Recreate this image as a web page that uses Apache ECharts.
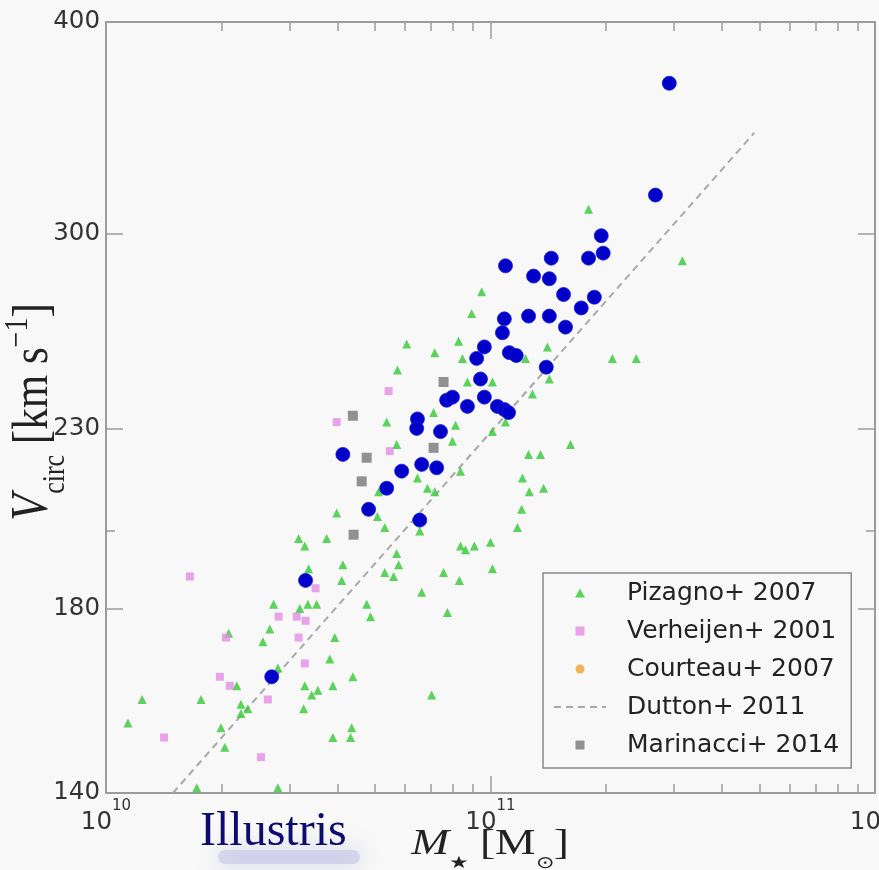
<!DOCTYPE html>
<html>
<head>
<meta charset="utf-8">
<script src="https://cdn.jsdelivr.net/npm/echarts@6/dist/echarts.min.js"></script>
<style>
html,body{margin:0;padding:0;background:#f8f8f8;}
#chart{width:879px;height:870px;}
</style>
</head>
<body>
<div id="chart"></div>
<script>
// ---- data (x stored as log10 of stellar mass in Msun, y as Vcirc in km/s) ----
const pizagnoLogM = [10.057,10.094,10.247,10.236,10.447,10.299,10.309,10.340,10.351,10.369,10.351,10.319,10.408,10.426,10.436,10.447,10.504,10.525,10.548,10.517,10.551,10.535,10.514,10.590,10.642,10.582,10.595,10.678,10.688,10.613,10.527,10.616,10.761,10.725,10.748,10.878,10.919,10.821,10.888,10.847,10.639,10.636,10.590,10.517,10.501,10.574,10.600,10.706,10.725,10.816,10.756,10.922,10.935,10.958,11.000,11.005,10.709,10.810,10.836,10.855,10.922,10.756,10.901,10.909,10.730,10.852,10.940,10.758,10.927,10.782,10.855,10.917,10.977,10.951,11.148,11.091,11.317,11.379,11.005,11.153,11.109,11.039,11.005,11.208,11.099,11.130,11.083,11.101,11.138,11.081,11.070,11.255,11.499];
const pizagnoV    = [154,159,159,141,141,153,149,162,158,157,156,174,172,175,181,166,180,181,181,162,161,160,157,162,164,168,173,181,178,187,190,191,191,189,188,189,187,184,179,160,153,151,151,196,198,198,205,204,201,200,194,196,195,196,197,190,211,215,212,211,217,225,226,231,232,235,245,249,253,258,255,259,277,269,257,253,253,253,245,246,241,232,229,225,222,222,215,211,212,206,201,310,289];

const verheijenLogM = [10.735,10.600,10.738,10.218,10.545,10.449,10.496,10.519,10.312,10.501,10.517,10.296,10.322,10.421,10.151,10.403];
const verheijenV    = [242,232,223,188,185,178,178,177,173,173,167,164,162,159,151,147];

const courteauLogM = [];
const courteauV    = [];

const duttonLogM = [10.174, 11.686];
const duttonV    = [140, 344];

const marinacciLogM = [10.878,10.642,10.852,10.678,10.665,10.644];
const marinacciV    = [245,234,224,221,214,199];

const illustrisLogM = [11.465,11.429,11.288,11.255,11.293,11.158,11.039,11.112,11.153,11.190,11.270,11.236,11.153,11.099,11.195,11.036,11.031,10.984,10.964,11.049,11.067,11.145,10.974,10.984,11.018,11.036,11.047,10.940,10.886,10.901,10.810,10.808,10.870,10.821,10.860,10.769,10.730,10.683,10.816,10.616,10.519,10.431];
const illustrisV    = [368,316,299,290,292,290,287,283,282,276,275,271,268,268,264,267,262,257,253,255,254,250,246,240,237,236,235,237,239,240,233,230,229,219,218,217,212,206,203,222,187,164];

const legendNames = ['Pizagno+ 2007','Verheijen+ 2001','Courteau+ 2007','Dutton+ 2011','Marinacci+ 2014'];

const xLabelTicks = [1e10, 1e11, 1e12];
const xMajorTicks = [1e11];
const xMinorTicks = [2e10,3e10,4e10,5e10,6e10,7e10,8e10,9e10,2e11,3e11,4e11,5e11,6e11,7e11,8e11,9e11];
const yLabelTicks = [140, 180, 230, 300, 400];
const yMajorTicks = [180, 230, 300];
const yMinorTicks = [200];

function pairs(lm, v) { return lm.map((m, i) => [Math.pow(10, m), v[i]]); }

const AX = '#9a9a9a';
const TICK_FONT = 'DejaVu Sans';

function xAxisDef(pos, ticks, len, withLine, withLabel) {
  return {
    type: 'log', logBase: 10, min: 1e10, max: 1e12, position: pos,
    axisLine: { show: withLine, onZero: false, lineStyle: { color: AX, width: 2 } },
    axisTick: { show: true, inside: true, length: len, customValues: ticks, lineStyle: { color: AX, width: 1.5 } },
    axisLabel: withLabel ? {
      show: true, customValues: xLabelTicks, margin: 6,
      formatter: function (v) { return '{b|10}{s|' + Math.round(Math.log10(v)) + '}'; },
      rich: {
        b: { fontFamily: TICK_FONT, fontSize: 24.5, color: '#333', lineHeight: 36, verticalAlign: 'bottom' },
        s: { fontFamily: TICK_FONT, fontSize: 15, color: '#333', lineHeight: 15, verticalAlign: 'top' }
      }
    } : { show: false },
    splitLine: { show: false }
  };
}
function yAxisDef(pos, ticks, len, withLine, withLabel) {
  return {
    type: 'log', logBase: 10, min: 140, max: 400, position: pos,
    axisLine: { show: withLine, onZero: false, lineStyle: { color: AX, width: 2 } },
    axisTick: { show: true, inside: true, length: len, customValues: ticks, lineStyle: { color: AX, width: 1.5 } },
    axisLabel: withLabel ? {
      show: true, customValues: yLabelTicks, margin: 6,
      fontFamily: TICK_FONT, fontSize: 24.5, color: '#333'
    } : { show: false },
    splitLine: { show: false }
  };
}

const chart = echarts.init(document.getElementById('chart'), null, { renderer: 'canvas' });

const serif = 'Liberation Serif';
const titleColor = '#222';

const triPath = 'path://M5,0L10,9L0,9Z';
const sqPath = 'path://M0,0L10,0L10,10L0,10Z';
const circPath = 'path://M5,0A5,5,0,1,1,5,10A5,5,0,1,1,5,0Z';

chart.setOption({
  backgroundColor: '#f8f8f8',
  animation: false,
  grid: { left: 106, top: 22, right: 4, bottom: 77, containLabel: false, outerBoundsMode: 'none' },
  xAxis: [
    xAxisDef('bottom', xMajorTicks, 17, true, true),
    xAxisDef('bottom', xMinorTicks, 9, false, false),
    xAxisDef('top', xMajorTicks, 17, true, false),
    xAxisDef('top', xMinorTicks, 9, false, false)
  ],
  yAxis: [
    yAxisDef('left', yMajorTicks, 17, true, true),
    yAxisDef('left', yMinorTicks, 9, false, false),
    yAxisDef('right', yMajorTicks, 17, true, false),
    yAxisDef('right', yMinorTicks, 9, false, false)
  ],
  legend: {
    data: [
      { name: legendNames[0], icon: triPath },
      { name: legendNames[1], icon: sqPath },
      { name: legendNames[2], icon: circPath },
      { name: legendNames[3], itemStyle: { opacity: 0 } },
      { name: legendNames[4], icon: sqPath }
    ],
    orient: 'vertical',
    left: 543, top: 573,
    padding: [6, 12, 9, 10],
    itemWidth: 52, itemHeight: 9, itemGap: 10,
    symbolKeepAspect: true,
    borderColor: '#888', borderWidth: 1.5, borderRadius: 0,
    backgroundColor: '#f8f8f8',
    textStyle: { fontFamily: TICK_FONT, fontSize: 25, color: '#222', lineHeight: 28, padding: [0, 0, 0, 16] },
    selectedMode: false
  },
  series: [
    {
      name: 'Pizagno+ 2007', type: 'scatter', symbol: 'triangle', symbolSize: 9,
      itemStyle: { color: '#33c833' }, data: pairs(pizagnoLogM, pizagnoV), z: 2
    },
    {
      name: 'Verheijen+ 2001', type: 'scatter', symbol: 'rect', symbolSize: 8,
      itemStyle: { color: '#e38ce3' }, data: pairs(verheijenLogM, verheijenV), z: 3
    },
    {
      name: 'Courteau+ 2007', type: 'scatter', symbol: 'circle', symbolSize: 8,
      itemStyle: { color: '#f0a030' }, data: pairs(courteauLogM, courteauV), z: 3
    },
    {
      name: 'Dutton+ 2011', type: 'line', symbol: 'none', showSymbol: false,
      lineStyle: { color: '#a8a8a8', width: 2, type: [7, 5] }, itemStyle: { color: '#a8a8a8' },
      data: pairs(duttonLogM, duttonV), z: 1
    },
    {
      name: 'Marinacci+ 2014', type: 'scatter', symbol: 'rect', symbolSize: 10,
      itemStyle: { color: '#777777' }, data: pairs(marinacciLogM, marinacciV), z: 3
    },
    {
      name: 'Illustris', type: 'scatter', symbol: 'circle', symbolSize: 14,
      itemStyle: { color: '#0000c8', borderColor: '#1818e0', borderWidth: 0.8, opacity: 1 },
      data: pairs(illustrisLogM, illustrisV), z: 4
    }
  ],
  graphic: [
    {
      type: 'rect', silent: true, z: 10,
      shape: { x: 218, y: 850, width: 142, height: 14, r: 7 },
      style: { fill: 'rgba(185,185,228,0.45)', shadowBlur: 22, shadowColor: 'rgba(160,160,215,1)' }
    },
    {
      type: 'text', silent: true, z: 11, x: 200, y: 832,
      style: { text: 'Illustris', fontFamily: serif, fontSize: 48, fill: '#0c0c6e', align: 'left', verticalAlign: 'middle' }
    },
    {
      type: 'text', silent: true, z: 11, x: 33, y: 412, rotation: Math.PI / 2, scaleY: 1.2,
      style: {
        text: '{i|V}{sub|circ}{n| [km s}{sup|\u22121}{n|]}',
        align: 'center', verticalAlign: 'middle', fill: titleColor,
        rich: {
          i: { fontFamily: serif, fontStyle: 'italic', fontSize: 44, lineHeight: 64, verticalAlign: 'middle', fill: titleColor },
          n: { fontFamily: serif, fontSize: 43, lineHeight: 64, verticalAlign: 'middle', fill: titleColor },
          sub: { fontFamily: serif, fontSize: 26, lineHeight: 26, verticalAlign: 'bottom', fill: titleColor },
          sup: { fontFamily: serif, fontSize: 28, lineHeight: 28, verticalAlign: 'top', padding: [6, 0, 0, 0], fill: titleColor }
        }
      }
    },
    {
      type: 'text', silent: true, z: 11, x: 490, y: 845, scaleX: 1.3,
      style: {
        text: '{i|M}{sub|\u2605}{n| [M}{sub|\u2299}{n|]}',
        align: 'center', verticalAlign: 'middle', fill: titleColor,
        rich: {
          i: { fontFamily: serif, fontStyle: 'italic', fontSize: 35, lineHeight: 54, verticalAlign: 'middle', fill: titleColor },
          n: { fontFamily: serif, fontSize: 35, lineHeight: 54, verticalAlign: 'middle', fill: titleColor },
          sub: { fontFamily: serif, fontSize: 17, lineHeight: 18, verticalAlign: 'bottom', fill: titleColor }
        }
      }
    }
  ]
});
</script>
</body>
</html>
